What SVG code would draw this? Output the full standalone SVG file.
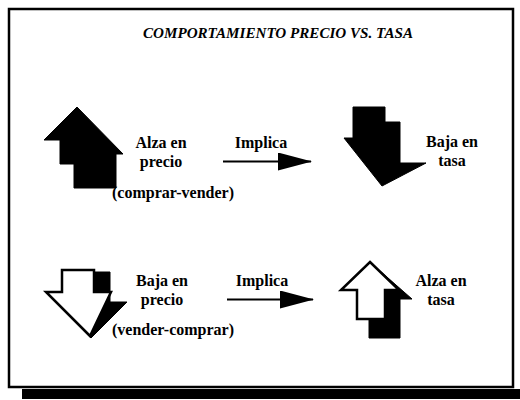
<svg xmlns="http://www.w3.org/2000/svg" width="520" height="400" viewBox="0 0 520 400">
<style>
.lbl{font-family:"Liberation Serif","Times New Roman",serif;font-size:16px;font-weight:bold;fill:#000;text-anchor:middle}
.ttl{font-family:"Liberation Serif","Times New Roman",serif;font-size:15px;font-weight:bold;font-style:italic;fill:#000;text-anchor:middle}
.blk{fill:#000;stroke:#000;stroke-width:1;stroke-linejoin:miter}
.wht{fill:#fff;stroke:#000;stroke-width:2.5;stroke-linejoin:miter}
.conn{stroke:#000;stroke-width:2;fill:none}
</style>
<defs>
<marker id="ah" viewBox="0 0 34 18" refX="33" refY="9" markerWidth="34" markerHeight="18" markerUnits="userSpaceOnUse" orient="auto">
<path d="M0,0 L34,9 L0,18 Z" fill="#000"/>
</marker>
</defs>
<rect width="520" height="400" fill="#fff"/>
<g id="frame">
<rect x="9" y="9" width="504" height="378" fill="none" stroke="#000" stroke-width="2.5"/>
<rect x="22" y="389" width="498" height="10" fill="#000"/>
</g>
<g id="title">
<text class="ttl" x="278" y="38" textLength="270" lengthAdjust="spacingAndGlyphs">COMPORTAMIENTO PRECIO VS. TASA</text>
</g>
<g id="arrow-alza-precio">
<polygon class="blk" points="77,107 44,140 60,140 60,164 74,164 74,188 116,188 116,154 123,154"/>
</g>
<g id="label-alza-precio">
<text class="lbl" x="161" y="148">Alza en</text>
<text class="lbl" x="161" y="167">precio</text>
<text class="lbl" x="173" y="198">(comprar-vender)</text>
</g>
<g id="arrow-baja-tasa">
<polygon class="blk" points="353,107 385,107 385,122 400,122 400,163 426,163 382,186 344,138 353,138"/>
</g>
<g id="label-baja-tasa">
<text class="lbl" x="452" y="147">Baja en</text>
<text class="lbl" x="452" y="166">tasa</text>
</g>
<g id="arrow-baja-precio">
<polygon class="blk" points="94,272 110,272 110,302 127,302 91,338 88,335 94,292"/>
<polygon class="wht" points="62,270 94,270 94,292 111,292 90,336 46,292 62,292"/>
</g>
<g id="label-baja-precio">
<text class="lbl" x="162" y="286">Baja en</text>
<text class="lbl" x="162" y="305">precio</text>
<text class="lbl" x="173" y="335">(vender-comprar)</text>
</g>
<g id="arrow-alza-tasa">
<polygon class="blk" points="372,264 412,299 400,299 400,338 369,338 369,300"/>
<polygon class="wht" points="370,262 399,290 385,290 385,319 357,319 357,290 341,290"/>
</g>
<g id="label-alza-tasa">
<text class="lbl" x="441" y="286">Alza en</text>
<text class="lbl" x="441" y="305">tasa</text>
</g>
<g id="connectors">
<line class="conn" x1="223" y1="161.5" x2="311" y2="161.5" marker-end="url(#ah)"/>
<text class="lbl" x="261" y="148">Implica</text>
<line class="conn" x1="227" y1="299.5" x2="313" y2="299.5" marker-end="url(#ah)"/>
<text class="lbl" x="262" y="286">Implica</text>
</g>
</svg>
